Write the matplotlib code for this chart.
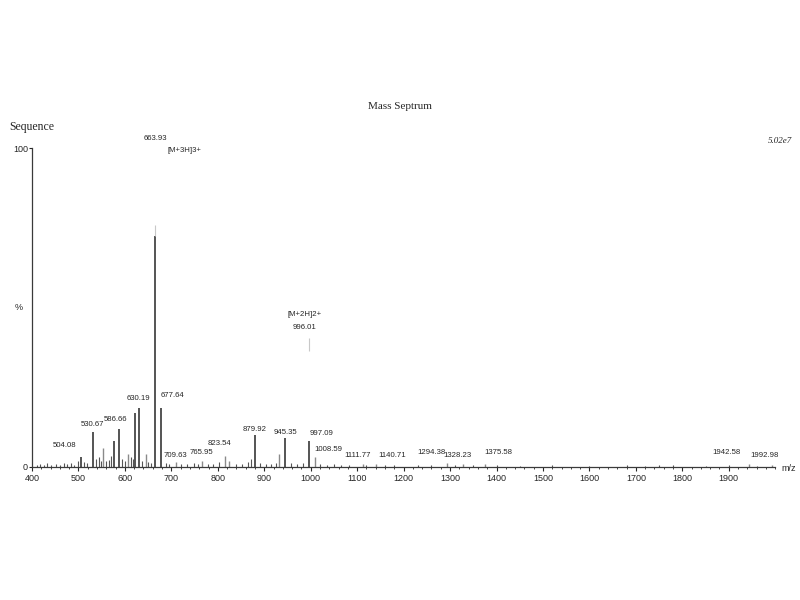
"""Scanned mass spectrum, redrawn."""
import matplotlib
matplotlib.use("Agg")
import matplotlib.pyplot as plt
from matplotlib.ticker import MultipleLocator

# main peaks (m/z, relative intensity %)
peak_mz = [505, 530.67, 553, 577, 586.66, 607, 622, 630.19, 645, 663.93, 677.64,
           709.63, 765.95, 816, 823.54, 879.92, 932, 945.35, 997.09, 1008.59,
           1111.77, 1140.71, 1294.38, 1328.23, 1375.58, 1942.58, 1992.98]
peak_int = [3.0, 11.0, 6.0, 8.0, 12.0, 4.0, 17.0, 18.5, 4.0, 72.5, 18.5,
            1.5, 2.0, 3.5, 2.0, 10.0, 4.0, 9.0, 8.0, 3.0,
            1.0, 0.8, 1.2, 1.0, 1.0, 0.8, 0.6]
peak_grey = [False, False, True, False, False, True, False, False, True, False, False,
             True, True, True, True, False, True, False, False, True,
             True, True, True, True, True, True, True]

# low level baseline spikes
noise_mz = [410, 418, 426, 433, 441, 452, 460, 468, 476, 483, 491, 498, 512, 519,
            538, 544, 549, 560, 566, 571, 594, 600, 613, 617, 636, 650, 656,
            688, 696, 720, 734, 748, 757, 778, 790, 803, 840, 852, 866, 872,
            890, 903, 915, 925, 958, 970, 984, 1020, 1035, 1050, 1066, 1082,
            1120, 1160, 1180, 1230, 1260, 1310, 1350, 1400, 1450, 1520, 1600,
            1680, 1720, 1750, 1780, 1850, 1900, 1960]
noise_int = [0.6, 1.0, 0.5, 1.2, 0.7, 0.9, 0.6, 1.1, 0.8, 1.3, 0.7, 1.8, 1.5, 1.2,
             2.5, 3.0, 2.0, 1.8, 2.2, 3.5, 2.6, 1.8, 3.0, 2.4, 2.0, 1.5, 1.2,
             1.3, 0.9, 1.0, 0.8, 1.2, 0.9, 1.0, 0.8, 1.5, 1.0, 0.8, 1.6, 2.5,
             1.2, 0.9, 1.0, 1.4, 1.1, 0.8, 1.2, 0.9, 0.7, 0.8, 0.6, 0.7,
             0.6, 0.5, 0.6, 0.5, 0.6, 0.5, 0.6, 0.5, 0.4, 0.5, 0.4,
             0.5, 0.4, 0.6, 0.5, 0.4, 0.6, 0.4]

# peak labels (text, m/z position, height %)
label_text = ["663.93", "[M+3H]3+", "630.19", "677.64", "586.66", "530.67", "504.08",
              "709.63", "765.95", "823.54", "879.92", "945.35", "997.09", "1008.59",
              "1111.77", "1140.71", "1294.38", "1328.23", "1375.58", "1942.58",
              "1992.98", "[M+2H]2+", "996.01"]
label_mz = [665, 729, 630, 703, 579, 531, 469,
            708, 764, 803, 880, 946, 1023, 1037,
            1102, 1175, 1259, 1315, 1403, 1895,
            1978, 986, 986]
label_y = [102, 98, 20.5, 21.3, 13.8, 12.2, 5.6,
           2.6, 3.5, 6.3, 10.8, 9.7, 9.4, 4.4,
           2.6, 2.4, 3.5, 2.4, 3.5, 3.5,
           2.4, 46.7, 42.6]

INK = "#262626"

fig = plt.figure(figsize=(8, 6), dpi=100)
ax = fig.add_axes([0.04, 0.2217, 0.929, 0.5316])

ax.vlines(noise_mz, 0, noise_int, color="#555555", linewidth=0.8)
for mz, h, g in zip(peak_mz, peak_int, peak_grey):
    ax.vlines(mz, 0, h, color="#8a8a8a" if g else INK, linewidth=1.0 if g else 1.1)
# faded top of the base peak and the faint [M+2H]2+ mark
ax.vlines(663.93, 72.5, 76, color="#c8c8c8", linewidth=0.8)
ax.vlines(996.01, 36.5, 40.5, color="#c8c8c8", linewidth=0.8)

for t, x, y in zip(label_text, label_mz, label_y):
    ax.text(x, y, t, fontsize=5.6, ha="center", va="bottom", color=INK,
            family="Liberation Sans")

ax.set_xlim(400, 2000)
ax.set_ylim(0, 100)
ax.set_xticks(range(400, 2000, 100))
ax.xaxis.set_minor_locator(MultipleLocator(20))
ax.tick_params(axis="x", which="major", length=3, width=0.8, labelsize=6.5,
               colors=INK, pad=2)
ax.tick_params(axis="x", which="minor", length=1.5, width=0.6, colors=INK)
ax.set_yticks([0, 100])
ax.set_yticklabels(["0", "100"])
ax.tick_params(axis="y", length=2, width=0.8, labelsize=6.5, colors=INK, pad=1)
for lab in ax.get_xticklabels() + ax.get_yticklabels():
    lab.set_family("Liberation Sans")
for s in ["top", "right"]:
    ax.spines[s].set_visible(False)
for s in ["left", "bottom"]:
    ax.spines[s].set_color("#3a3a3a")
    ax.spines[s].set_linewidth(0.9)

ax.text(-0.012, 0.5, "%", transform=ax.transAxes, fontsize=6.5, ha="right",
        va="center", color=INK, family="Liberation Sans")
ax.text(1.008, -0.005, "m/z", transform=ax.transAxes, fontsize=6.5, ha="left",
        va="center", color=INK, family="Liberation Sans")

fig.text(0.5, 0.823, "Mass Septrum", fontsize=8, ha="center", va="center",
         color=INK, family="Liberation Serif")
fig.text(0.012, 0.788, "Sequence", fontsize=8.5, ha="left", va="center",
         color=INK, family="Liberation Serif")
fig.text(0.99, 0.765, "5.02e7", fontsize=6.5, ha="right", va="center",
         color=INK, family="Liberation Serif", style="italic")

fig.savefig("out.png", dpi=100)
